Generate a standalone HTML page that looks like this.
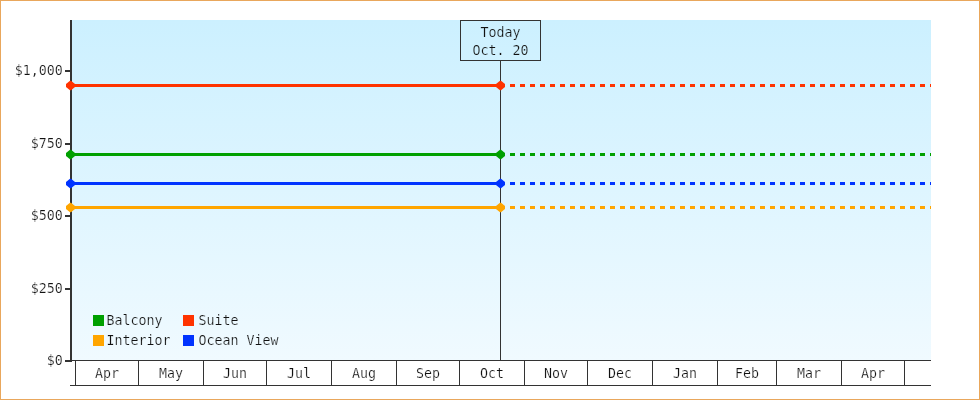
<!DOCTYPE html>
<html><head><meta charset="utf-8"><title>Price chart</title>
<style>
html,body{margin:0;padding:0;background:#fff;}
body{width:980px;height:400px;overflow:hidden;}
svg{display:block;}
text{font-family:"DejaVu Sans Mono","Liberation Mono",monospace;font-size:13.3px;fill:#111;stroke:#fff;stroke-width:0.22px;paint-order:fill stroke;}
text.t{stroke:#cff1ff;}
text.l{stroke:#ebf8ff;}
</style></head><body>
<svg width="980" height="400" viewBox="0 0 980 400">
<defs><linearGradient id="bg" x1="0" y1="0" x2="0" y2="1"><stop offset="0" stop-color="#ccf0ff"/><stop offset="1" stop-color="#f0faff"/></linearGradient></defs>
<rect x="0" y="0" width="980" height="400" fill="#fff"/>
<rect x="0.5" y="0.5" width="979" height="399" fill="none" stroke="#e9a75c" stroke-width="1"/>
<rect x="72" y="20" width="859" height="340" fill="url(#bg)"/>

<g shape-rendering="crispEdges" fill="#333">
<rect x="72" y="360" width="859" height="1"/>
<rect x="70" y="385" width="861" height="1"/>
<rect x="75" y="361" width="1" height="24"/>
<rect x="138" y="361" width="1" height="24"/>
<rect x="203" y="361" width="1" height="24"/>
<rect x="266" y="361" width="1" height="24"/>
<rect x="331" y="361" width="1" height="24"/>
<rect x="396" y="361" width="1" height="24"/>
<rect x="459" y="361" width="1" height="24"/>
<rect x="524" y="361" width="1" height="24"/>
<rect x="587" y="361" width="1" height="24"/>
<rect x="652" y="361" width="1" height="24"/>
<rect x="717" y="361" width="1" height="24"/>
<rect x="776" y="361" width="1" height="24"/>
<rect x="841" y="361" width="1" height="24"/>
<rect x="904" y="361" width="1" height="24"/>
</g>
<text x="107.0" y="378" text-anchor="middle">Apr</text>
<text x="171.0" y="378" text-anchor="middle">May</text>
<text x="235.0" y="378" text-anchor="middle">Jun</text>
<text x="299.0" y="378" text-anchor="middle">Jul</text>
<text x="364.0" y="378" text-anchor="middle">Aug</text>
<text x="428.0" y="378" text-anchor="middle">Sep</text>
<text x="492.0" y="378" text-anchor="middle">Oct</text>
<text x="556.0" y="378" text-anchor="middle">Nov</text>
<text x="620.0" y="378" text-anchor="middle">Dec</text>
<text x="685.0" y="378" text-anchor="middle">Jan</text>
<text x="747.0" y="378" text-anchor="middle">Feb</text>
<text x="809.0" y="378" text-anchor="middle">Mar</text>
<text x="873.0" y="378" text-anchor="middle">Apr</text>
<g shape-rendering="crispEdges" fill="#333">
<rect x="70" y="20" width="2" height="342"/>
<rect x="65" y="70" width="5" height="2"/>
<rect x="65" y="143" width="5" height="2"/>
<rect x="65" y="215" width="5" height="2"/>
<rect x="65" y="288" width="5" height="2"/>
<rect x="65" y="360" width="5" height="2"/>
</g>
<text x="62.7" y="75.0" text-anchor="end">$1,000</text>
<text x="62.7" y="147.5" text-anchor="end">$750</text>
<text x="62.7" y="220.0" text-anchor="end">$500</text>
<text x="62.7" y="292.5" text-anchor="end">$250</text>
<text x="62.7" y="365.0" text-anchor="end">$0</text>
<rect x="500" y="61" width="1" height="299" fill="#333" shape-rendering="crispEdges"/>
<rect x="70" y="84.0" width="431" height="3" fill="#ff3300" shape-rendering="crispEdges"/>
<line x1="510" y1="85.5" x2="931" y2="85.5" stroke="#ff3300" stroke-width="3" stroke-dasharray="5 5" shape-rendering="crispEdges"/>
<path d="M70.0 80.7l1 0l4 3.4v2.8l-4 3.4h-1l-4 -3.4v-2.8z" fill="#ff3300"/>
<path d="M500.0 80.7l1 0l4 3.4v2.8l-4 3.4h-1l-4 -3.4v-2.8z" fill="#ff3300"/>
<rect x="70" y="153.0" width="431" height="3" fill="#00a000" shape-rendering="crispEdges"/>
<line x1="510" y1="154.5" x2="931" y2="154.5" stroke="#00a000" stroke-width="3" stroke-dasharray="5 5" shape-rendering="crispEdges"/>
<path d="M70.0 149.7l1 0l4 3.4v2.8l-4 3.4h-1l-4 -3.4v-2.8z" fill="#00a000"/>
<path d="M500.0 149.7l1 0l4 3.4v2.8l-4 3.4h-1l-4 -3.4v-2.8z" fill="#00a000"/>
<rect x="70" y="182.0" width="431" height="3" fill="#0033ff" shape-rendering="crispEdges"/>
<line x1="510" y1="183.5" x2="931" y2="183.5" stroke="#0033ff" stroke-width="3" stroke-dasharray="5 5" shape-rendering="crispEdges"/>
<path d="M70.0 178.7l1 0l4 3.4v2.8l-4 3.4h-1l-4 -3.4v-2.8z" fill="#0033ff"/>
<path d="M500.0 178.7l1 0l4 3.4v2.8l-4 3.4h-1l-4 -3.4v-2.8z" fill="#0033ff"/>
<rect x="70" y="206.0" width="431" height="3" fill="#ffa500" shape-rendering="crispEdges"/>
<line x1="510" y1="207.5" x2="931" y2="207.5" stroke="#ffa500" stroke-width="3" stroke-dasharray="5 5" shape-rendering="crispEdges"/>
<path d="M70.0 202.7l1 0l4 3.4v2.8l-4 3.4h-1l-4 -3.4v-2.8z" fill="#ffa500"/>
<path d="M500.0 202.7l1 0l4 3.4v2.8l-4 3.4h-1l-4 -3.4v-2.8z" fill="#ffa500"/>
<rect x="460.5" y="20.5" width="80" height="40" fill="none" stroke="#333" stroke-width="1" shape-rendering="crispEdges"/>
<text class="t" x="500.5" y="36.5" text-anchor="middle">Today</text>
<text class="t" x="500.5" y="55" text-anchor="middle">Oct. 20</text>
<rect x="93" y="315" width="11" height="11" fill="#00a000" shape-rendering="crispEdges"/>
<text class="l" x="106.5" y="324.5">Balcony</text>
<rect x="183" y="315" width="11" height="11" fill="#ff3300" shape-rendering="crispEdges"/>
<text class="l" x="198.5" y="324.5">Suite</text>
<rect x="93" y="335" width="11" height="11" fill="#ffa500" shape-rendering="crispEdges"/>
<text class="l" x="106.5" y="344.5">Interior</text>
<rect x="183" y="335" width="11" height="11" fill="#0033ff" shape-rendering="crispEdges"/>
<text class="l" x="198.5" y="344.5">Ocean View</text>
</svg></body></html>
